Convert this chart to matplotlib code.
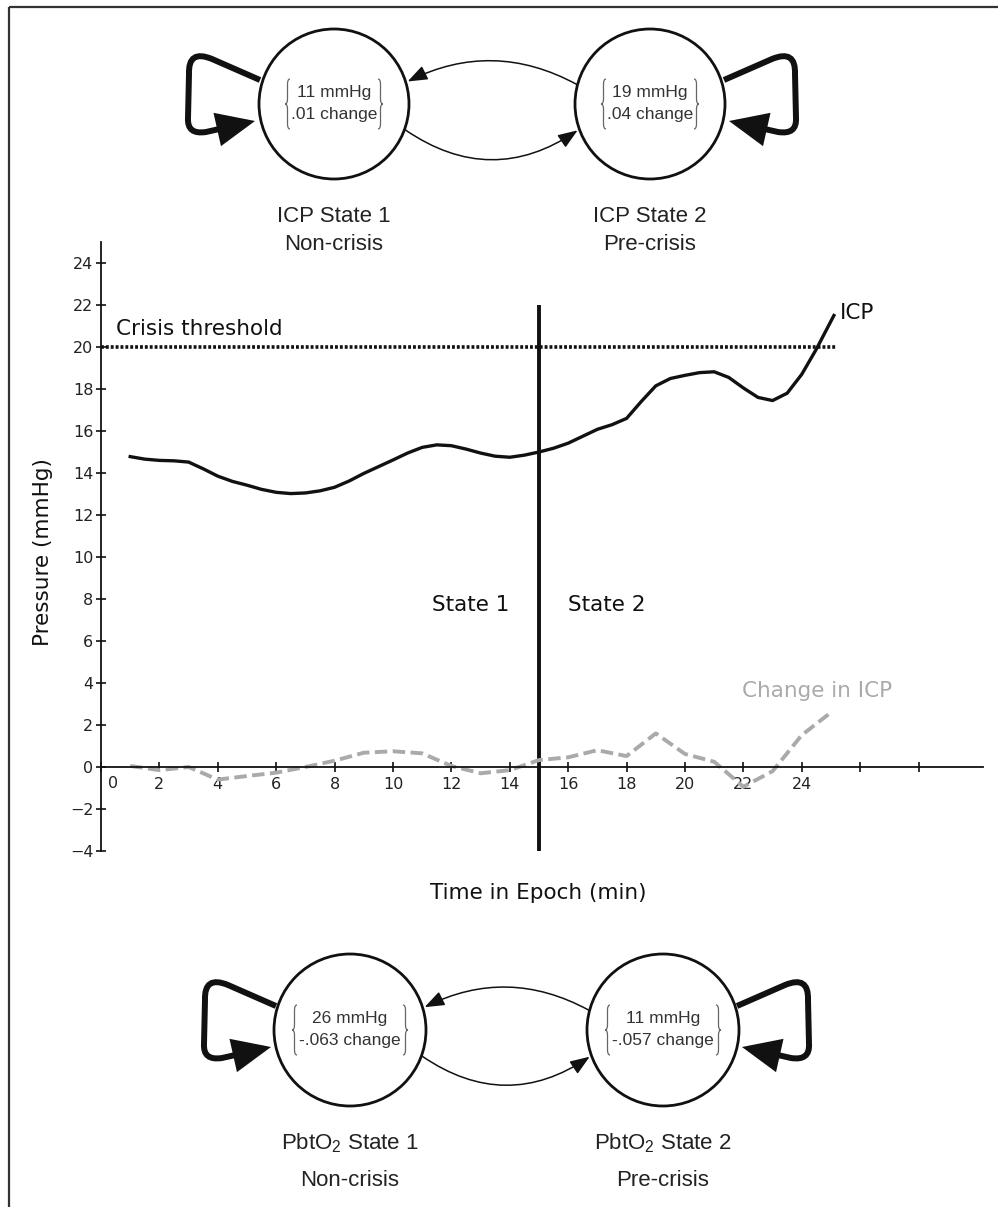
import matplotlib
matplotlib.use('Agg')
from matplotlib import pyplot as plt
from matplotlib.patches import Circle, FancyArrowPatch, PathPatch
from matplotlib.path import Path
import numpy as np

plt.rcParams['mathtext.fontset'] = 'custom'
plt.rcParams['mathtext.rm'] = 'Liberation Sans'
plt.rcParams['font.family'] = ['DejaVu Sans']

icp_time = [1.0, 1.5, 2.0, 2.5, 3.0, 3.5, 4.0, 4.5, 5.0, 5.5, 6.0, 6.5, 7.0,
            7.5, 8.0, 8.5, 9.0, 9.5, 10.0, 10.5, 11.0, 11.5, 12.0, 12.5,
            13.0, 13.5, 14.0, 14.5, 15.0, 15.5, 16.0, 16.5, 17.0, 17.5,
            18.0, 18.5, 19.0, 19.5, 20.0, 20.5, 21.0, 21.5, 22.0, 22.5,
            23.0, 23.5, 24.0, 24.5, 25.1]
icp_vals = [14.78, 14.66, 14.6, 14.58, 14.52, 14.2, 13.85, 13.6, 13.42,
            13.22, 13.08, 13.02, 13.05, 13.15, 13.32, 13.62, 13.98, 14.3,
            14.62, 14.95, 15.22, 15.34, 15.3, 15.14, 14.95, 14.8, 14.75,
            14.85, 15.0, 15.18, 15.42, 15.75, 16.08, 16.3, 16.6, 17.4, 18.15,
            18.5, 18.65, 18.78, 18.82, 18.55, 18.05, 17.6, 17.45, 17.8,
            18.7, 19.9, 21.5]

# minute-by-minute change in ICP
chg_time = [1, 2, 3, 4, 5, 6, 7, 8, 9, 10, 11, 12, 13, 14, 15, 16, 17, 18,
            19, 20, 21, 22, 23, 24, 25]
chg_vals = [0.05, -0.15, 0.0, -0.6, -0.43, -0.27, 0.0, 0.3, 0.68, 0.75, 0.65,
            0.05, -0.3, -0.15, 0.33, 0.46, 0.8, 0.52, 1.6, 0.62, 0.25, -0.94,
            -0.2, 1.52, 2.6]

threshold = 20
threshold_end = 25.2
boundary = 15
boundary_top = 22

x_ticks = [0, 2, 4, 6, 8, 10, 12, 14, 16, 18, 20, 22, 24, 26, 28]
x_ticklabels = ['', '2', '4', '6', '8', '10', '12', '14', '16', '18', '20',
                '22', '24', '', '']
y_ticks = [-4, -2, 0, 2, 4, 6, 8, 10, 12, 14, 16, 18, 20, 22, 24]

# HMM state summaries
icp_means = [11, 19]
icp_changes = ['.01', '.04']
icp_names = ['ICP State 1', 'ICP State 2']
pbto2_means = [26, 11]
pbto2_changes = ['-.063', '-.057']
pbto2_names = ['PbtO$_2$ State 1', 'PbtO$_2$ State 2']
state_kinds = ['Non-crisis', 'Pre-crisis']

INK = '#111111'
DIAG_FONT = 'Liberation Sans'

fig = plt.figure(figsize=(9.98, 12.07), dpi=100)

# pixel-space overlay for the frame and the state diagrams
bg = fig.add_axes([0, 0, 1, 1])
bg.set_xlim(0, 998)
bg.set_ylim(1207, 0)
bg.axis('off')
bg.plot([9.5, 998], [6.5, 6.5], color='#333333', lw=1.6, solid_capstyle='butt')
bg.plot([9.5, 9.5], [6.5, 1207], color='#333333', lw=1.6, solid_capstyle='butt')


def brace(x, y0, y1, side, w=5):
    # curly brace with its point at x; side=-1 is '{', side=+1 is '}'
    ym = (y0 + y1) / 2
    if side == -1:
        xs, xm, xt = x + w, x + w / 2, x
    else:
        xs, xm, xt = x - w, x - w / 2, x
    verts = [(xs, y0), (xm, y0), (xm, y0 + w),
             (xm, ym - w), (xm, ym), (xt, ym),
             (xm, ym), (xm, ym + w),
             (xm, y1 - w), (xm, y1), (xs, y1)]
    codes = [Path.MOVETO, Path.CURVE3, Path.CURVE3,
             Path.LINETO, Path.CURVE3, Path.CURVE3,
             Path.CURVE3, Path.CURVE3,
             Path.LINETO, Path.CURVE3, Path.CURVE3]
    bg.add_patch(PathPatch(Path(verts, codes), fill=False, lw=0.9,
                           edgecolor='#666666', zorder=3))


loop_rel = [(-74, -24), (-122, -45), (-146, -55), (-145, -30), (-146, 14),
            (-147, 31), (-128, 28), (-79, 17)]
loop_codes = [Path.MOVETO, Path.LINETO, Path.CURVE3, Path.CURVE3,
              Path.LINETO, Path.CURVE3, Path.CURVE3, Path.LINETO]


def self_loop(cx, cy, side):
    # side=-1 puts the loop on the left of the circle, +1 on the right
    verts = [(cx - side * dx, cy + dy) for dx, dy in loop_rel]
    bg.add_patch(FancyArrowPatch(
        path=Path(verts, loop_codes),
        arrowstyle='-|>,head_length=1.7,head_width=0.75',
        mutation_scale=12, lw=4.3, color=INK, joinstyle='miter',
        capstyle='butt'))


def on_circle(cx, cy, r, ang):
    a = np.deg2rad(ang)
    return (cx + r * np.cos(a), cy - r * np.sin(a))


def diagram(cy, xs, r, means, changes, names, half, sub_dy):
    for cx, m, c, name, kind in zip(xs, means, changes, names, state_kinds):
        bg.add_patch(Circle((cx, cy), r, facecolor='white', edgecolor=INK,
                            lw=2.0, zorder=2))
        bg.text(cx, cy - 11, f'{m} mmHg', ha='center', va='center',
                fontsize=12.5, family=DIAG_FONT, color='#333333', zorder=3)
        bg.text(cx, cy + 11, f'{c} change', ha='center', va='center',
                fontsize=12.5, family=DIAG_FONT, color='#333333', zorder=3)
        brace(cx - half, cy - 25, cy + 25, -1)
        brace(cx + half, cy - 25, cy + 25, 1)
        bg.text(cx, cy + 113, name, ha='center', va='center',
                fontsize=16, family=DIAG_FONT, color='#222222')
        bg.text(cx, cy + 141 + sub_dy, kind, ha='center', va='center',
                fontsize=16, family=DIAG_FONT, color='#222222')
    self_loop(xs[0], cy, -1)
    self_loop(xs[1], cy, 1)
    style = '-|>,head_length=0.8,head_width=0.3'
    bg.add_patch(FancyArrowPatch(
        on_circle(xs[1], cy, r + 1, 165), on_circle(xs[0], cy, r + 2, 17),
        connectionstyle='arc3,rad=0.26', arrowstyle=style,
        mutation_scale=15, lw=1.1, color=INK, shrinkA=0, shrinkB=0))
    bg.add_patch(FancyArrowPatch(
        on_circle(xs[0], cy, r + 1, -20), on_circle(xs[1], cy, r + 2, 200),
        connectionstyle='arc3,rad=0.34', arrowstyle=style,
        mutation_scale=15, lw=1.1, color=INK, shrinkA=0, shrinkB=0))


diagram(104, [334, 650], 75, icp_means, icp_changes, icp_names, 49, 0)
diagram(1030, [350, 663], 76, pbto2_means, pbto2_changes, pbto2_names, 58, 10)

# main time-series panel
ax = fig.add_axes([101 / 998, 356 / 1207, 881.8 / 998, 609 / 1207])
ax.patch.set_visible(False)
ax.set_xlim(0, 30.2)
ax.set_ylim(-4, 25)
ax.spines['top'].set_visible(False)
ax.spines['right'].set_visible(False)
ax.spines['bottom'].set_position(('data', 0))
ax.spines['left'].set_position(('data', 0))
for s in ['bottom', 'left']:
    ax.spines[s].set_linewidth(1.3)
    ax.spines[s].set_color(INK)

ax.set_xticks(x_ticks)
ax.set_xticklabels(x_ticklabels)
ax.set_yticks(y_ticks)
ax.tick_params(direction='inout', length=7, width=1.2, color=INK,
               labelsize=11.5, labelcolor='#222222')
ax.tick_params(axis='x', pad=4)
ax.tick_params(axis='y', pad=2)
ax.text(0.42, -0.78, '0', ha='center', va='center', fontsize=11.5,
        color='#222222')

ax.plot([0, threshold_end], [threshold, threshold], color=INK, lw=2.6,
        ls=(0, (0.8, 0.55)), dash_capstyle='butt')
ax.plot([boundary, boundary], [-4, boundary_top], color=INK, lw=2.8,
        solid_capstyle='butt')
ax.plot(icp_time, icp_vals, color=INK, lw=2.4, solid_joinstyle='round')
ax.plot(chg_time, chg_vals, color='#aaaaaa', lw=2.8, ls=(0, (3.2, 1.4)),
        dash_capstyle='butt')

ax.text(0.5, 20.85, 'Crisis threshold', ha='left', va='center',
        fontsize=15.5, color=INK)
ax.text(25.3, 21.6, 'ICP', ha='left', va='center', fontsize=15.5, color=INK)
ax.text(14.0, 7.7, 'State 1', ha='right', va='center', fontsize=15.5,
        color=INK)
ax.text(16.0, 7.7, 'State 2', ha='left', va='center', fontsize=15.5,
        color=INK)
ax.text(21.95, 3.6, 'Change in ICP', ha='left', va='center', fontsize=15.5,
        color='#aaaaaa')

bg.text(538, 893, 'Time in Epoch (min)', ha='center', va='center',
        fontsize=15.5, color=INK)
bg.text(43, 552, 'Pressure (mmHg)', ha='center', va='center', rotation=90,
        fontsize=15.5, color=INK)

fig.savefig('out.png', dpi=100)
